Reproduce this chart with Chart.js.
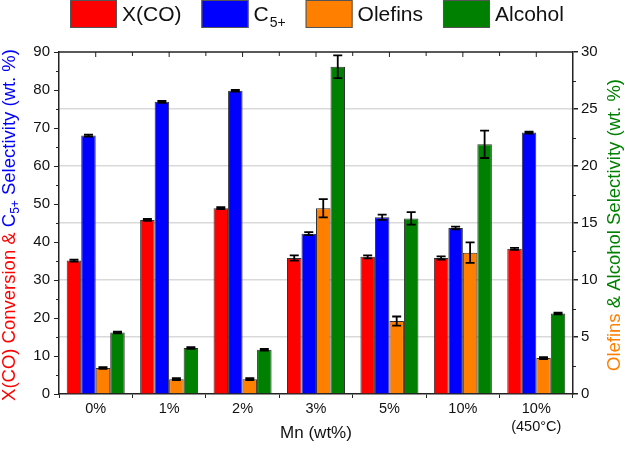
<!DOCTYPE html>
<html>
<head>
<meta charset="utf-8">
<script src="https://cdn.jsdelivr.net/npm/chart.js@4.4.1/dist/chart.umd.min.js"></script>
<style>
  body { margin: 0; background: #fff; }
  canvas { display: block; }
</style>
</head>
<body>
<canvas id="chart" width="625" height="449"></canvas>
<script>
// data
const categories = ["0%", "1%", "2%", "3%", "5%", "10%", ["10%", "(450°C)"]];
const xco = [35.1, 45.8, 48.9, 35.8, 36.1, 35.8, 38.2];
const xcoErr = [0.25, 0.25, 0.25, 0.7, 0.4, 0.4, 0.25];
const c5 = [68.0, 76.9, 79.8, 42.2, 46.5, 43.7, 68.8];
const c5Err = [0.25, 0.25, 0.25, 0.4, 0.7, 0.35, 0.25];
const olefins = [2.28, 1.3, 1.3, 16.3, 6.4, 12.4, 3.15];
const olefinsErr = [0.08, 0.08, 0.08, 0.8, 0.4, 0.9, 0.08];
const alcohol = [5.4, 4.03, 3.88, 28.7, 15.4, 21.9, 7.06];
const alcoholErr = [0.08, 0.08, 0.08, 1.0, 0.55, 1.2, 0.08];

const RED = "#ff0000", BLUE = "#0000ff", ORANGE = "#ff7f00", GREEN = "#008000";
const FONT = "'Liberation Sans', Arial, sans-serif";
const AXIS = "#222";

// error bars drawn from each dataset's own scale
const errorBars = {
  id: "errorBars",
  afterDatasetsDraw(chart) {
    const ctx = chart.ctx;
    ctx.save();
    ctx.strokeStyle = "#000";
    ctx.lineWidth = 1.8;
    chart.data.datasets.forEach((ds, i) => {
      const meta = chart.getDatasetMeta(i);
      const scale = chart.scales[ds.yAxisID];
      meta.data.forEach((bar, j) => {
        const v = ds.data[j], e = ds.errors[j];
        const top = scale.getPixelForValue(v + e);
        const bot = scale.getPixelForValue(v - e);
        ctx.beginPath();
        ctx.moveTo(bar.x, top); ctx.lineTo(bar.x, bot);
        ctx.moveTo(bar.x - 4.5, top); ctx.lineTo(bar.x + 4.5, top);
        ctx.moveTo(bar.x - 4.5, bot); ctx.lineTo(bar.x + 4.5, bot);
        ctx.stroke();
      });
    });
    ctx.restore();
  }
};

// frame, minor ticks, top ticks, legend and coloured axis titles
const decorations = {
  id: "decorations",
  afterDraw(chart) {
    const ctx = chart.ctx;
    const a = chart.chartArea;
    const x = chart.scales.x, y = chart.scales.y, y1 = chart.scales.y1;
    ctx.save();
    ctx.strokeStyle = AXIS;
    ctx.lineWidth = 1.5;
    ctx.beginPath();
    ctx.moveTo(a.left, a.top); ctx.lineTo(a.right, a.top);
    ctx.stroke();

    ctx.lineWidth = 1;
    ctx.beginPath();
    // top ticks pointing in, at centres and boundaries
    const step = (a.right - a.left) / categories.length;
    for (let k = 0; k < categories.length; k++) {
      const cx = x.getPixelForValue(k);
      ctx.moveTo(cx, a.top); ctx.lineTo(cx, a.top + 5);
      if (k > 0) {
        ctx.moveTo(cx - step / 2, a.top); ctx.lineTo(cx - step / 2, a.top + 4);
      }
    }
    // left minor ticks
    for (let v = 5; v < 90; v += 10) {
      const py = Math.round(y.getPixelForValue(v)) + 0.5;
      ctx.moveTo(a.left, py); ctx.lineTo(a.left - 3, py);
    }
    // right minor ticks
    for (let v = 2.5; v < 30; v += 5) {
      const py = Math.round(y1.getPixelForValue(v)) + 0.5;
      ctx.moveTo(a.right, py); ctx.lineTo(a.right + 3, py);
    }
    ctx.stroke();

    // legend
    const items = [
      { color: RED, text: "X(CO)" },
      { color: BLUE, text: "C", sub: "5+" },
      { color: ORANGE, text: "Olefins" },
      { color: GREEN, text: "Alcohol" }
    ];
    let lx = 70;
    ctx.textBaseline = "middle";
    items.forEach(it => {
      ctx.fillStyle = it.color;
      ctx.fillRect(lx, 0, 47, 28);
      ctx.strokeStyle = "#555";
      ctx.strokeRect(lx + 0.5, 0.5, 46, 27);
      let tx = lx + 52;
      ctx.fillStyle = "#111";
      ctx.font = "21px " + FONT;
      ctx.fillText(it.text, tx, 15);
      tx += ctx.measureText(it.text).width;
      if (it.sub) {
        ctx.font = "14px " + FONT;
        ctx.fillText(it.sub, tx + 1, 23);
        tx += ctx.measureText(it.sub).width + 1;
      }
      lx = tx + 20;
    });

    // axis titles
    const drawTitle = (segs, cx, cy, size) => {
      ctx.save();
      ctx.translate(cx, cy);
      ctx.rotate(-Math.PI / 2);
      ctx.textBaseline = "middle";
      let total = 0;
      segs.forEach(s => {
        ctx.font = (s.sub ? size * 0.65 : size) + "px " + FONT;
        total += ctx.measureText(s.t).width;
      });
      let px = -total / 2;
      segs.forEach(s => {
        ctx.font = (s.sub ? size * 0.65 : size) + "px " + FONT;
        ctx.fillStyle = s.c;
        ctx.fillText(s.t, px, s.sub ? size * 0.3 : 0);
        px += ctx.measureText(s.t).width;
      });
      ctx.restore();
    };
    drawTitle([
      { t: "X(CO) Conversion & ", c: RED },
      { t: "C", c: BLUE },
      { t: "5+", c: BLUE, sub: true },
      { t: " Selectivity (wt. %)", c: BLUE }
    ], 10, 225, 18.5);
    drawTitle([
      { t: "Olefins ", c: ORANGE },
      { t: "& Alcohol Selectivity (wt. %)", c: GREEN }
    ], 615, 225, 18.5);

    // x title
    ctx.fillStyle = "#111";
    ctx.font = "17px " + FONT;
    ctx.textAlign = "center";
    ctx.fillText("Mn (wt%)", (a.left + a.right) / 2, 433);
    ctx.restore();
  }
};

function makeSet(label, data, errors, color, axis) {
  return {
    label: label,
    data: data,
    errors: errors,
    yAxisID: axis,
    backgroundColor: color,
    borderColor: "#333",
    borderWidth: 1
  };
}

new Chart(document.getElementById("chart"), {
  type: "bar",
  data: {
    labels: categories,
    datasets: [
      makeSet("X(CO)", xco, xcoErr, RED, "y"),
      makeSet("C5+", c5, c5Err, BLUE, "y"),
      makeSet("Olefins", olefins, olefinsErr, ORANGE, "y1"),
      makeSet("Alcohol", alcohol, alcoholErr, GREEN, "y1")
    ]
  },
  options: {
    responsive: false,
    animation: false,
    categoryPercentage: 0.79,
    barPercentage: 1,
    layout: { padding: { top: 52, left: 0, right: 0, bottom: 0 } },
    plugins: {
      legend: { display: false },
      tooltip: { enabled: false }
    },
    scales: {
      x: {
        afterFit(scale) { scale.height = 55; },
        grid: { drawOnChartArea: false, drawTicks: true, tickLength: 4, tickColor: AXIS, offset: true },
        border: { display: true, color: AXIS, width: 1.5 },
        ticks: { color: "#111", font: { family: FONT, size: 14.5, lineHeight: 1.25 }, padding: 2, maxRotation: 0, autoSkip: false }
      },
      y: {
        position: "left",
        min: 0,
        max: 90,
        afterFit(scale) { scale.width = 59; },
        grid: { drawOnChartArea: false, drawTicks: true, tickLength: 5, tickColor: AXIS },
        border: { display: true, color: AXIS, width: 1.5 },
        ticks: { stepSize: 10, color: "#111", font: { family: FONT, size: 15 }, padding: 4 }
      },
      y1: {
        position: "right",
        min: 0,
        max: 30,
        afterFit(scale) { scale.width = 52; },
        grid: {
          drawOnChartArea: true,
          drawTicks: true,
          tickLength: 5,
          tickColor: AXIS,
          lineWidth: 1.5,
          color: ctx => (ctx.tick && (ctx.tick.value === 0 || ctx.tick.value === 30)) ? "rgba(0,0,0,0)" : "#d9d9d9"
        },
        border: { display: true, color: AXIS, width: 1.5 },
        ticks: { stepSize: 5, color: "#111", font: { family: FONT, size: 15 }, padding: 3 }
      }
    }
  },
  plugins: [errorBars, decorations]
});
</script>
</body>
</html>
